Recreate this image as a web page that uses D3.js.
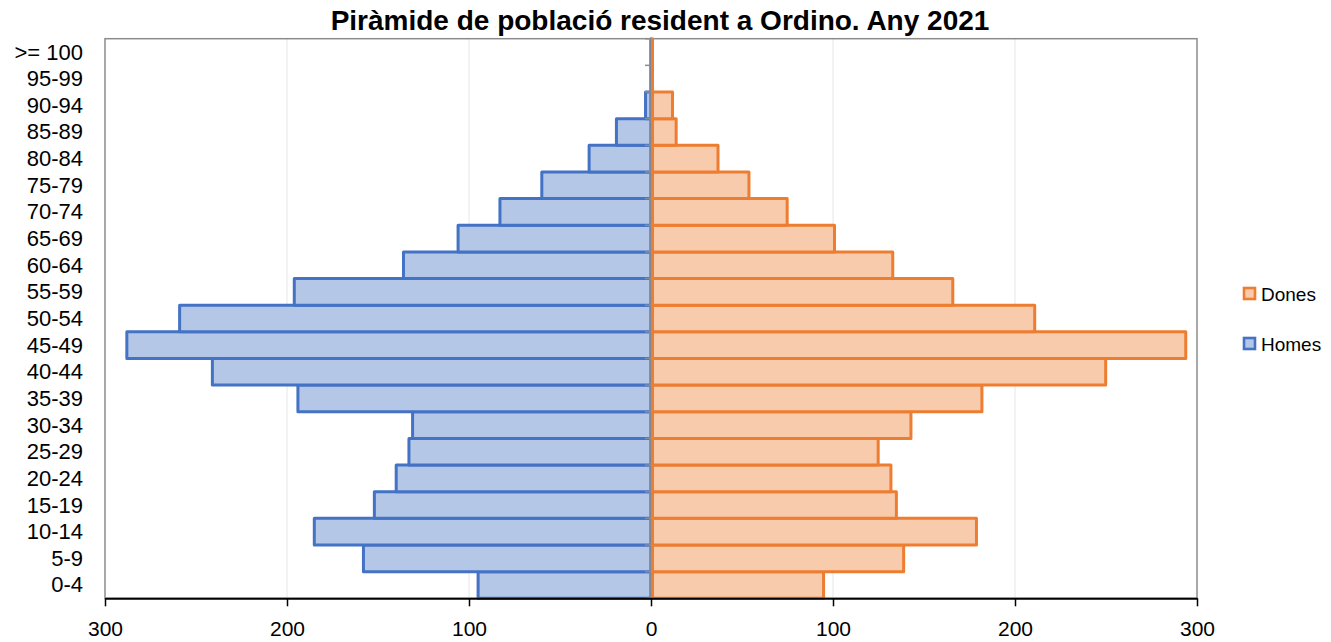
<!DOCTYPE html>
<html>
<head>
<meta charset="utf-8">
<script src="https://cdn.jsdelivr.net/npm/d3@7"></script>
<style>
  body { margin: 0; background: #fff; }
  svg { display: block; font-family: "Liberation Sans", Arial, sans-serif; }
</style>
</head>
<body>
<svg></svg>
<script>
// age groups, bottom to top as in the spreadsheet
const ageGroups = ["0-4", "5-9", "10-14", "15-19", "20-24", "25-29", "30-34", "35-39",
  "40-44", "45-49", "50-54", "55-59", "60-64", "65-69", "70-74", "75-79",
  "80-84", "85-89", "90-94", "95-99", ">= 100"];
const homes = [95, 158, 185, 152, 140, 133, 131, 194, 241, 288, 259, 196, 136, 106, 83, 60, 34, 19, 3, 0, 0];
const dones = [94, 138, 178, 134, 131, 124, 142, 181, 249, 293, 210, 165, 132, 100, 74, 53, 36, 13, 11, 0, 0];
const xTicks = [-300, -200, -100, 0, 100, 200, 300];
const seriesNames = ["Dones", "Homes"];

const width = 1331;
const height = 642;
const margin = {top: 38.7, right: 134, bottom: 43.7, left: 105};
const viewWidth = width - margin.left - margin.right;
const viewHeight = height - margin.top - margin.bottom;

const colors = {
  Homes: {fill: "#b4c7e7", stroke: "#4472c4"},
  Dones: {fill: "#f8cbad", stroke: "#ed7d31"}
};

const svg = d3.select("svg")
  .attr("width", width)
  .attr("height", height);

const g = svg.append("g")
  .attr("transform", "translate(" + margin.left + "," + margin.top + ")");

const x = d3.scaleLinear()
  .domain([-300, 300])
  .range([0, viewWidth]);

const y = d3.scaleBand()
  .domain(ageGroups.slice().reverse())
  .range([0, viewHeight])
  .padding(0);

// grid lines
g.append("g")
  .selectAll("line")
  .data(xTicks.filter(d => d !== 0 && Math.abs(d) !== 300))
  .enter()
  .append("line")
  .attr("x1", d => x(d))
  .attr("x2", d => x(d))
  .attr("y1", 0)
  .attr("y2", viewHeight)
  .style("stroke", "#e6e6e6")
  .style("stroke-width", 1);

// plot frame
g.append("rect")
  .attr("x", 0)
  .attr("y", 0)
  .attr("width", viewWidth)
  .attr("height", viewHeight)
  .style("fill", "none")
  .style("stroke", "#8c8c8c")
  .style("stroke-width", 1.5);

// bars as paths so zero values still show their outline
function barPath(v0, v1, cat) {
  const x0 = x(v0), x1 = x(v1);
  const y0 = y(cat), y1 = y(cat) + y.bandwidth();
  return "M" + x0 + "," + y0 + "H" + x1 + "V" + y1 + "H" + x0 + "Z";
}

g.append("g")
  .selectAll("path")
  .data(ageGroups)
  .enter()
  .append("path")
  .attr("d", (d, i) => barPath(-homes[i], 0, d))
  .style("fill", colors.Homes.fill)
  .style("stroke", colors.Homes.stroke)
  .style("stroke-width", 3)
  .style("stroke-linejoin", "round");

// y axis line and ticks at zero
g.append("line")
  .attr("x1", x(0) - 1)
  .attr("x2", x(0) - 1)
  .attr("y1", 0)
  .attr("y2", viewHeight)
  .style("stroke", "#8c8c8c")
  .style("stroke-width", 1.5);

g.append("g")
  .selectAll("line")
  .data(d3.range(ageGroups.length + 1))
  .enter()
  .append("line")
  .attr("x1", x(0) - 6)
  .attr("x2", x(0))
  .attr("y1", d => d * y.step())
  .attr("y2", d => d * y.step())
  .style("stroke", "#8c8c8c")
  .style("stroke-width", 1.5);

g.append("g")
  .selectAll("path")
  .data(ageGroups)
  .enter()
  .append("path")
  .attr("d", (d, i) => barPath(0, dones[i], d))
  .attr("transform", "translate(1.5,0)")
  .style("fill", colors.Dones.fill)
  .style("stroke", colors.Dones.stroke)
  .style("stroke-width", 3)
  .style("stroke-linejoin", "round");

// category labels
g.append("g")
  .selectAll("text")
  .data(ageGroups)
  .enter()
  .append("text")
  .attr("x", -22)
  .attr("y", d => y(d) + y.bandwidth() / 2 + 7.5)
  .attr("text-anchor", "end")
  .style("font-size", "22px")
  .style("fill", "#000")
  .text(d => d);

// bottom axis
const xAxis = g.append("g")
  .attr("transform", "translate(0," + viewHeight + ")")
  .call(d3.axisBottom(x).tickValues(xTicks).tickFormat(d => Math.abs(d)).tickSize(8).tickSizeOuter(0));

xAxis.select(".domain")
  .style("stroke", "#000")
  .style("stroke-width", 2);
xAxis.selectAll(".tick line")
  .style("stroke", "#000")
  .style("stroke-width", 1.5);
xAxis.selectAll(".tick text")
  .attr("y", 37.5)
  .attr("dy", null)
  .style("font-size", "21px")
  .style("font-family", "'Liberation Sans', Arial, sans-serif")
  .style("fill", "#000");

// title
svg.append("text")
  .attr("x", 660)
  .attr("y", 30)
  .attr("text-anchor", "middle")
  .style("font-size", "28px")
  .style("font-weight", "bold")
  .text("Piràmide de població resident a Ordino. Any 2021");

// legend
const legend = svg.append("g")
  .selectAll("g")
  .data(seriesNames)
  .enter()
  .append("g")
  .attr("transform", (d, i) => "translate(1244," + (288 + i * 50) + ")");

legend.append("rect")
  .attr("width", 11)
  .attr("height", 11)
  .style("fill", d => colors[d].fill)
  .style("stroke", d => colors[d].stroke)
  .style("stroke-width", 2.6);

legend.append("text")
  .attr("x", 17)
  .attr("y", 12.5)
  .style("font-size", "19px")
  .style("fill", "#000")
  .text(d => d);
</script>
</body>
</html>
